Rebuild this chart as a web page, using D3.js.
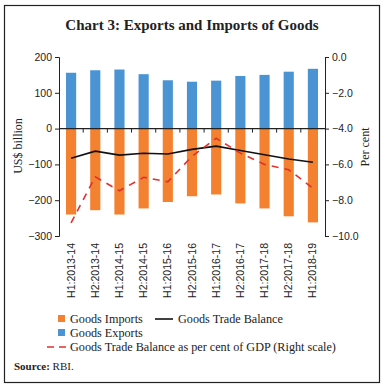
<!DOCTYPE html>
<html>
<head>
<meta charset="utf-8">
<script src="https://cdn.jsdelivr.net/npm/d3@7"></script>
<style>
  body { margin: 0; background: #fff; }
  svg text { fill: #222; }
</style>
</head>
<body>
<div id="chart"></div>
<script>
let width = 385,
    height = 388

let categories = ["H1:2013-14", "H2:2013-14", "H1:2014-15", "H2:2014-15", "H1:2015-16", "H2:2015-16",
  "H1:2016-17", "H2:2016-17", "H1:2017-18", "H2:2017-18", "H1:2018-19"];
let exportsData = [156, 163, 165, 152, 135, 131, 134, 147, 150, 159, 167];
let importsData = [-240, -228, -240, -223, -205, -189, -184, -209, -223, -245, -262];
let balanceData = [-83, -63, -74, -69, -71, -58, -49, -61, -73, -85, -94];
let balanceGdp = [-9.27, -6.69, -7.47, -6.72, -6.97, -5.55, -4.54, -5.37, -6.0, -6.3, -7.33];
let leftTicks = [200, 100, 0, -100, -200, -300];
let rightTicks = [0, -2, -4, -6, -8, -10];

let plot = {left: 59, right: 325, top: 57, bottom: 236};
let tickFont = "Liberation Sans";

let svg = d3.select("#chart")
  .append("svg")
    .attr("width", width)
    .attr("height", height);

// frame
svg.append("rect")
  .attr("x", 4.5).attr("y", 5.5)
  .attr("width", 375).attr("height", 377)
  .attr("fill", "none").attr("stroke", "#222").attr("stroke-width", 1.2);

svg.append("text")
  .attr("x", 192).attr("y", 30)
  .attr("text-anchor", "middle")
  .style("font-family", "Liberation Serif")
  .style("font-weight", "bold")
  .style("font-size", "15px")
  .text("Chart 3: Exports and Imports of Goods");

let x = d3.scaleBand()
  .domain(categories)
  .range([plot.left, plot.right])
  .paddingInner(0.58)
  .paddingOuter(0.29);

let y = d3.scaleLinear().domain([-300, 200]).range([plot.bottom, plot.top]);
let y2 = d3.scaleLinear().domain([-10, 0]).range([plot.bottom, plot.top]);

// bars
svg.append("g").selectAll("rect")
  .data(exportsData)
  .enter().append("rect")
  .attr("x", (d, i) => x(categories[i]))
  .attr("y", d => y(d))
  .attr("width", x.bandwidth())
  .attr("height", d => y(0) - y(d))
  .attr("fill", "#4b94d4");

svg.append("g").selectAll("rect")
  .data(importsData)
  .enter().append("rect")
  .attr("x", (d, i) => x(categories[i]))
  .attr("y", y(0))
  .attr("width", x.bandwidth())
  .attr("height", d => y(d) - y(0))
  .attr("fill", "#f4812f");

// left axis
let leftAxis = svg.append("g")
  .attr("transform", `translate(${plot.left},0)`)
  .call(d3.axisLeft(y).tickValues(leftTicks).tickSize(4).tickPadding(3));
leftAxis.selectAll("text")
  .style("font-family", tickFont).style("font-size", "10.5px").attr("fill", "#333");

// right axis
let rightAxis = svg.append("g")
  .attr("transform", `translate(${plot.right},0)`)
  .call(d3.axisRight(y2).tickValues(rightTicks).tickFormat(d3.format(".1f")).tickSize(4).tickPadding(3));
rightAxis.selectAll("text")
  .style("font-family", tickFont).style("font-size", "10.5px").attr("fill", "#333");

svg.selectAll(".domain").attr("stroke", "#222");
svg.selectAll(".tick line").attr("stroke", "#222");

// zero line with category ticks
let zeroAxis = svg.append("g")
  .attr("transform", `translate(0,${y(0)})`);
zeroAxis.append("line")
  .attr("x1", plot.left).attr("x2", plot.right)
  .attr("stroke", "#222").attr("stroke-width", 1.3);
zeroAxis.selectAll("line.ct")
  .data(categories.slice(1))
  .enter().append("line")
  .attr("class", "ct")
  .attr("x1", d => x(d) - x.step() * x.paddingInner() / 2)
  .attr("x2", d => x(d) - x.step() * x.paddingInner() / 2)
  .attr("y1", 0).attr("y2", 4)
  .attr("stroke", "#222");

// category labels
svg.append("g").selectAll("text")
  .data(categories)
  .enter().append("text")
  .attr("transform", d => `translate(${x(d) + x.bandwidth() / 2 + 3.5},243) rotate(-90)`)
  .attr("text-anchor", "end")
  .style("font-family", tickFont)
  .style("font-size", "10.5px")
  .attr("fill", "#333")
  .text(d => d);

// lines
let xc = i => x(categories[i]) + x.bandwidth() / 2;

svg.append("path")
  .datum(balanceData)
  .attr("fill", "none")
  .attr("stroke", "#111")
  .attr("stroke-width", 1.6)
  .attr("d", d3.line().x((d, i) => xc(i)).y(d => y(d)));

svg.append("path")
  .datum(balanceGdp)
  .attr("fill", "none")
  .attr("stroke", "#e0312e")
  .attr("stroke-width", 1.6)
  .attr("stroke-dasharray", "7,6")
  .attr("d", d3.line().x((d, i) => xc(i)).y(d => y2(d)));

// axis titles
svg.append("text")
  .attr("transform", "translate(22,146) rotate(-90)")
  .attr("text-anchor", "middle")
  .style("font-family", "Liberation Serif")
  .style("font-size", "12px")
  .text("US$ billion");

svg.append("text")
  .attr("transform", "translate(369,147) rotate(-90)")
  .attr("text-anchor", "middle")
  .style("font-family", "Liberation Serif")
  .style("font-size", "12px")
  .text("Per cent");

// legend
let legend = svg.append("g")
  .style("font-family", "Liberation Serif")
  .style("font-size", "12.2px");

legend.append("rect").attr("x", 58).attr("y", 315).attr("width", 7).attr("height", 7).attr("fill", "#f4812f");
legend.append("text").attr("x", 70).attr("y", 323).text("Goods Imports");
legend.append("line").attr("x1", 155).attr("x2", 173).attr("y1", 319).attr("y2", 319)
  .attr("stroke", "#111").attr("stroke-width", 1.6);
legend.append("text").attr("x", 178).attr("y", 323).text("Goods Trade Balance");
legend.append("rect").attr("x", 58).attr("y", 329).attr("width", 7).attr("height", 7).attr("fill", "#4b94d4");
legend.append("text").attr("x", 70).attr("y", 337).text("Goods Exports");
legend.append("line").attr("x1", 47).attr("x2", 66).attr("y1", 347).attr("y2", 347)
  .attr("stroke", "#e0312e").attr("stroke-width", 1.6).attr("stroke-dasharray", "7,5");
legend.append("text").attr("x", 70).attr("y", 351).text("Goods Trade Balance as per cent of GDP (Right scale)");

let source = svg.append("text")
  .attr("x", 14).attr("y", 370)
  .style("font-family", "Liberation Serif")
  .style("font-size", "11px");
source.append("tspan").style("font-weight", "bold").text("Source:");
source.append("tspan").text(" RBI.");
</script>
</body>
</html>
